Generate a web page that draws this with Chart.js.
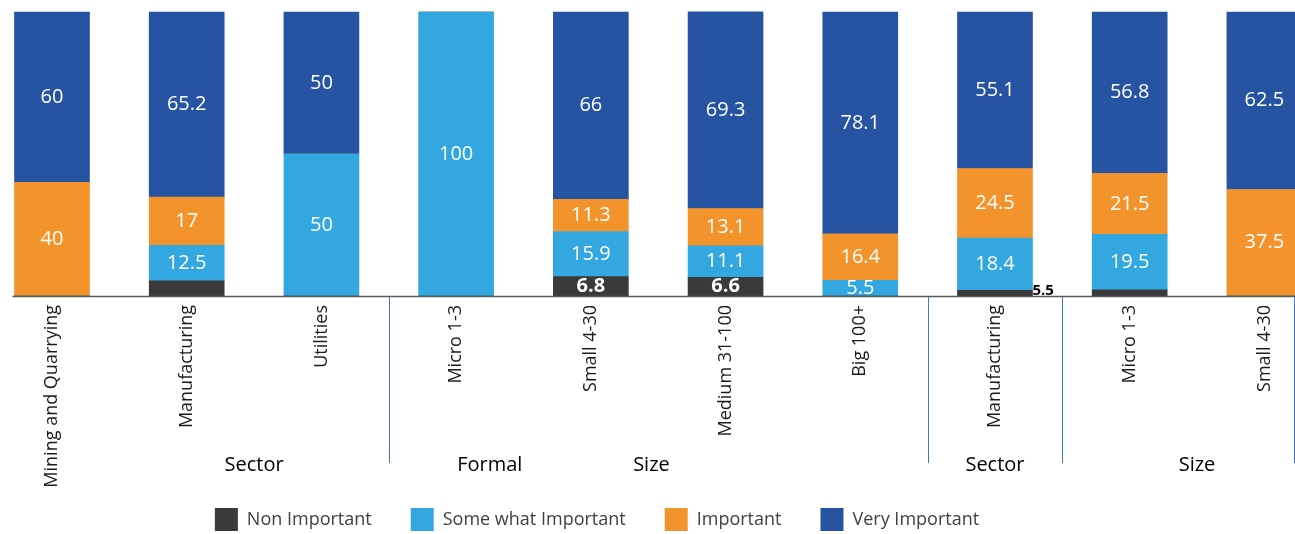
<!DOCTYPE html>
<html>
<head>
<meta charset="utf-8">
<script src="https://cdn.jsdelivr.net/npm/chart.js@4.4.0/dist/chart.umd.min.js"></script>
<style>
    html, body { margin: 0; padding: 0; background: #fff; overflow: hidden; }
    #chart-wrap { position: relative; width: 1295px; height: 534px; }
</style>
</head>
<body>
<div id="chart-wrap"><canvas id="importanceChart"></canvas></div>
<script>
// Data (percent of firms)
const categories = ['Mining and Quarrying', 'Manufacturing', 'Utilities', 'Micro 1-3', 'Small 4-30',
    'Medium 31-100', 'Big 100+', 'Manufacturing', 'Micro 1-3', 'Small 4-30'];
const nonImportant = [0, 5.3, 0, 0, 6.8, 6.6, 0, 2.0, 2.2, 0];
const someWhatImportant = [0, 12.5, 50, 100, 15.9, 11.1, 5.5, 18.4, 19.5, 0];
const important = [40, 17, 0, 0, 11.3, 13.1, 16.4, 24.5, 21.5, 37.5];
const veryImportant = [60, 65.2, 50, 0, 66, 69.3, 78.1, 55.1, 56.8, 62.5];
// only some of the dark segments carry a label in the source
const nonImportantLabels = ['', '', '', '', '6.8', '6.6', '', '5.5', '', ''];
const groupLabels = ['Sector', 'Formal', 'Size', 'Sector', 'Size'];

Chart.defaults.font.family = '"Open Sans", sans-serif';

// value labels inside the stacked segments
const segmentLabels = {
    id: 'segmentLabels',
    afterDatasetsDraw(chart) {
        const ctx = chart.ctx;
        ctx.save();
        ctx.textBaseline = 'middle';
        chart.data.datasets.forEach((ds, di) => {
            const meta = chart.getDatasetMeta(di);
            meta.data.forEach((bar, i) => {
                const text = di === 0 ? nonImportantLabels[i] : (ds.data[i] > 0 ? String(ds.data[i]) : '');
                if (!text) return;
                const { x, y, base, width } = bar.getProps(['x', 'y', 'base', 'width'], true);
                const mid = (y + base) / 2;
                if (Math.abs(base - y) < 10) {
                    // too thin: write it beside the bar
                    ctx.font = 'bold 15px "Open Sans"';
                    ctx.fillStyle = '#000';
                    ctx.textAlign = 'left';
                    ctx.fillText(text, x + width / 2, mid - 2);
                } else {
                    ctx.font = (di === 0 ? 'bold ' : '') + '20px "Open Sans"';
                    ctx.fillStyle = '#fff';
                    ctx.textAlign = 'center';
                    ctx.fillText(text, x, mid);
                }
            });
        });
        ctx.restore();
    }
};

// baseline, group separators and group names under the axis
const groupAxis = {
    id: 'groupAxis',
    afterLayout(chart, args, opts) {
        // put the legend where the source has it
        const lg = chart.legend;
        const dx = opts.legendCenter - (lg.left + lg.right) / 2;
        lg.left += dx;
        lg.right += dx;
        lg.top = opts.legendTop;
        lg.bottom = chart.height;
        lg.height = lg.bottom - lg.top;
    },
    afterDraw(chart, args, opts) {
        const { ctx, chartArea } = chart;
        const xs = chart.scales.x;
        const barW = chart.getDatasetMeta(0).data[0].width;
        ctx.save();
        ctx.strokeStyle = '#595959';
        ctx.lineWidth = 1.5;
        ctx.beginPath();
        ctx.moveTo(xs.getPixelForValue(0) - barW / 2 - 2, chartArea.bottom + 0.5);
        ctx.lineTo(chart.width, chartArea.bottom + 0.5);
        ctx.stroke();

        ctx.strokeStyle = '#4472C4';
        ctx.lineWidth = 1;
        opts.separators.forEach(v => {
            const px = Math.min(xs.getPixelForValue(v), chart.width - 1.5);
            ctx.beginPath();
            ctx.moveTo(Math.round(px) + 0.5, chartArea.bottom + 1);
            ctx.lineTo(Math.round(px) + 0.5, opts.lineBottom);
            ctx.stroke();
        });

        ctx.font = '20px "Open Sans"';
        ctx.fillStyle = '#000';
        ctx.textAlign = 'center';
        ctx.textBaseline = 'middle';
        groupLabels.forEach((t, k) => {
            ctx.fillText(t, xs.getPixelForValue(opts.positions[k]), opts.labelY);
        });
        ctx.restore();
    }
};

new Chart(document.getElementById('importanceChart').getContext('2d'), {
    type: 'bar',
    data: {
        labels: categories,
        datasets: [
            { label: 'Non Important', data: nonImportant, backgroundColor: '#3A3A3A', clip: false },
            { label: 'Some what Important', data: someWhatImportant, backgroundColor: '#33A7DF', clip: false },
            { label: 'Important', data: important, backgroundColor: '#F3932C', clip: false },
            { label: 'Very Important', data: veryImportant, backgroundColor: '#2654A2', clip: false }
        ]
    },
    options: {
        responsive: true,
        maintainAspectRatio: false,
        animation: false,
        barThickness: 75,
        layout: { padding: { left: 52, right: 25, top: 12, bottom: 0 } },
        plugins: {
            tooltip: { enabled: false },
            legend: {
                position: 'bottom',
                maxHeight: 38,
                labels: {
                    boxWidth: 23,
                    boxHeight: 23,
                    padding: 39,
                    color: '#404040',
                    font: { size: 18 }
                }
            },
            groupAxis: {
                separators: [2.5, 6.5, 7.5, 9.5],
                positions: [1.5, 3.25, 4.45, 7, 8.5],
                labelY: 465,
                lineBottom: 463,
                legendCenter: 597,
                legendTop: 469
            }
        },
        scales: {
            x: {
                stacked: true,
                offset: false,
                grid: { display: false, drawTicks: false },
                border: { display: false },
                ticks: {
                    autoSkip: false,
                    minRotation: 90,
                    maxRotation: 90,
                    padding: 9,
                    color: '#1a1a1a',
                    font: { size: 18 }
                },
                afterFit(scale) { scale.height = 200; }
            },
            y: {
                stacked: true,
                display: false,
                min: 0,
                max: 100
            }
        }
    },
    plugins: [segmentLabels, groupAxis]
});
</script>
</body>
</html>
